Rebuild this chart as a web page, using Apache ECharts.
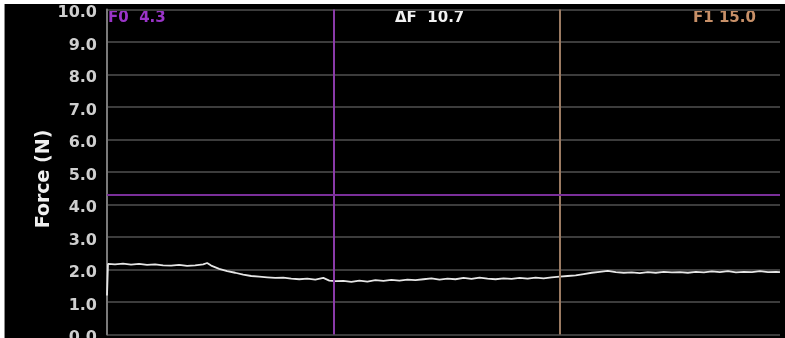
<!DOCTYPE html>
<html>
<head>
<meta charset="utf-8">
<script src="https://cdn.jsdelivr.net/npm/echarts@6/dist/echarts.min.js"></script>
<style>
html,body{margin:0;padding:0;background:#fff;width:785px;height:338px;overflow:hidden;}
#frame{position:absolute;left:4px;top:4px;width:781px;height:334px;background:#000;border-left:1px solid #8a8a8a;box-sizing:border-box;}
#chart{position:absolute;left:0;top:0;width:780px;height:334px;}
</style>
</head>
<body>
<div id="frame"><div id="chart"></div></div>
<script>
// Trace samples: [sample position, force in N]
const traceX = [0,1,8,16,24,32,40,48,56,64,72,80,88,96,100,104,112,120,128,136,144,152,160,168,176,184,192,200,208,216,222,228,236,244,252,260,268,276,284,292,300,308,316,324,332,340,348,356,364,372,380,388,396,404,412,420,428,436,444,452,460,468,476,484,492,500,508,516,524,532,540,548,556,564,572,580,588,596,604,612,620,628,636,644,652,660,668,672];
const traceY = [1.2,2.17,2.16,2.18,2.15,2.17,2.14,2.16,2.13,2.12,2.14,2.11,2.13,2.16,2.2,2.12,2.02,1.95,1.9,1.84,1.8,1.78,1.76,1.74,1.75,1.72,1.7,1.72,1.69,1.74,1.66,1.64,1.65,1.62,1.66,1.63,1.67,1.65,1.68,1.66,1.69,1.67,1.7,1.73,1.69,1.72,1.7,1.74,1.71,1.75,1.72,1.7,1.73,1.71,1.74,1.72,1.75,1.73,1.76,1.78,1.8,1.82,1.86,1.9,1.93,1.96,1.92,1.9,1.91,1.89,1.92,1.9,1.93,1.91,1.92,1.9,1.93,1.91,1.94,1.92,1.95,1.91,1.93,1.92,1.95,1.92,1.93,1.92];
const yTicks = ['0.0','1.0','2.0','3.0','4.0','5.0','6.0','7.0','8.0','9.0','10.0'];
const cursorF0X = 226;
const cursorF1X = 452;
const F0 = 4.3;
const F1 = 15.0;
const dF = 10.7;

const data = traceX.map((x, i) => [x, traceY[i]]);
const chart = echarts.init(document.getElementById('chart'));
chart.setOption({
  backgroundColor: 'transparent',
  animation: false,
  grid: {left: 102, right: 5, top: 5.5, bottom: 3.5, containLabel: false, outerBoundsMode: 'none'},
  xAxis: {
    type: 'value', min: 0, max: 672,
    axisLine: {show: false}, axisTick: {show: false}, axisLabel: {show: false}, splitLine: {show: false}
  },
  yAxis: {
    type: 'value', min: 0, max: 10, interval: 1,
    name: 'Force (N)', nameLocation: 'middle', nameGap: 53, nameRotate: 90, nameMoveOverlap: false,
    nameTextStyle: {color: '#f0f0f0', fontFamily: 'DejaVu Sans', fontWeight: 'bold', fontSize: 19, padding: [0, 14, 0, 0]},
    axisLine: {show: true, lineStyle: {color: '#7a7a7a', width: 2}},
    axisTick: {show: false},
    axisLabel: {
      margin: 10,
      formatter: v => '{s| }\n{t|' + yTicks[Math.round(v)] + '}',
      rich: {
        s: {height: 7, lineHeight: 7, fontSize: 6},
        t: {color: '#cfcfcf', fontFamily: 'DejaVu Sans', fontWeight: 'bold', fontSize: 16, lineHeight: 18, align: 'right'}
      }
    },
    splitLine: {show: true, lineStyle: {color: '#3c3c3c', width: 2}}
  },
  series: [{
    type: 'line', data: data, showSymbol: false, symbol: 'none',
    lineStyle: {color: '#e6e6e6', width: 1.8},
    markLine: {
      silent: true, symbol: 'none', label: {show: false},
      data: [
        {xAxis: cursorF0X, lineStyle: {color: '#8a3aa8', width: 2, type: 'solid'}},
        {xAxis: cursorF1X, lineStyle: {color: '#9a7a62', width: 2, type: 'solid'}},
        {yAxis: F0, lineStyle: {color: '#7a2f9a', width: 2, type: 'solid'}}
      ]
    }
  }],
  graphic: [
    {type: 'text', left: 103, top: 7, style: {text: 'F0  ' + F0.toFixed(1), fill: '#9a34c8', font: 'bold 15px "DejaVu Sans"'}},
    {type: 'text', left: 390, top: 7, style: {text: '\u0394F  ' + dF.toFixed(1), fill: '#f2f2f2', font: 'bold 15px "DejaVu Sans"'}},
    {type: 'text', left: 688, top: 7, style: {text: 'F1 ' + F1.toFixed(1), fill: '#c89068', font: 'bold 15px "DejaVu Sans"'}}
  ]
});
</script>
</body>
</html>
